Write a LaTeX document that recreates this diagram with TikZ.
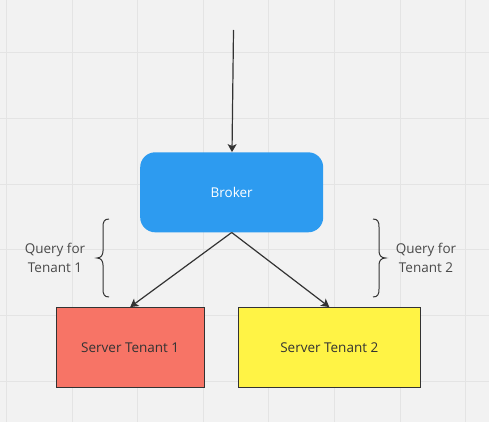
\documentclass[tikz,border=0pt]{standalone}
\usepackage{fontspec}
\setmainfont{Open Sans}
\usetikzlibrary{arrows.meta}
\definecolor{bg}{HTML}{F2F2F2}
\definecolor{gridc}{HTML}{E4E4E4}
\definecolor{brokerblue}{HTML}{2D9BF0}
\definecolor{redbox}{HTML}{F77466}
\definecolor{yellowbox}{HTML}{FFF345}
\definecolor{ink}{HTML}{333333}
\definecolor{labelc}{HTML}{4A4A4A}
\tikzset{
  conn/.style={draw=ink, line width=1.2pt, -{Stealth[length=8pt,width=9pt,inset=2pt]}},
  serverbox/.style={draw=ink, line width=1.3pt, minimum width=148pt, minimum height=80pt, inner sep=0pt, font=\fontsize{13.5}{16}\selectfont, text=ink},
  brokerbox/.style={fill=brokerblue, rounded corners=15pt, minimum width=183pt, minimum height=80pt, inner sep=0pt, text=white, font=\fontsize{13.5}{16}\selectfont},
  lbl/.style={align=center, text=labelc, font=\fontsize{13.5}{19}\selectfont, inner sep=0pt},
  bracel/.style={draw=ink, line width=1pt}
}
\begin{document}
\begin{tikzpicture}[x=1pt,y=-1pt]
\fill[bg] (0,0) rectangle (489,422);
\useasboundingbox (0,0) rectangle (489,422);
\foreach \gx in {6.5,72.1,137.7,203.3,268.9,334.5,400.1,465.7}
  \draw[gridc, line width=1pt] (\gx,0) -- (\gx,422);
\foreach \gy in {53,118.6,184.2,249.8,315.4,381}
  \draw[gridc, line width=1pt] (0,\gy) -- (489,\gy);

\coordinate (start) at (233.5,30);
\node[brokerbox] (broker) at (231.7,192.3) {Broker};
\node[serverbox, fill=redbox, minimum width=148pt] (s1) at (130.2,347.7) {Server Tenant 1};
\node[serverbox, fill=yellowbox, minimum width=182pt] (s2) at (329.3,347.7) {Server Tenant 2};

\draw[conn] (start) -- (broker.north -| 232,0);
\draw[conn] (broker.south) -- (s1.north);
\draw[conn] (broker.south) -- (s2.north);

% left brace
\draw[bracel] (109,219) .. controls (104,219) and (103,222) .. (103,227)
  -- (103,251) .. controls (103,255) and (101,258) .. (97,258)
  .. controls (101,258) and (103,261) .. (103,265)
  -- (103,289) .. controls (103,294) and (104,297) .. (109,297);
% right brace
\draw[bracel] (373,219) .. controls (378,219) and (379,222) .. (379,227)
  -- (379,251) .. controls (379,255) and (381,258) .. (385.5,258)
  .. controls (381,258) and (379,261) .. (379,265)
  -- (379,289) .. controls (379,294) and (378,297) .. (373,297);

\node[lbl] (q1) at (55,257.5) {Query for\\Tenant 1};
\node[lbl] (q2) at (426,257.5) {Query for\\Tenant 2};
\end{tikzpicture}
\end{document}
